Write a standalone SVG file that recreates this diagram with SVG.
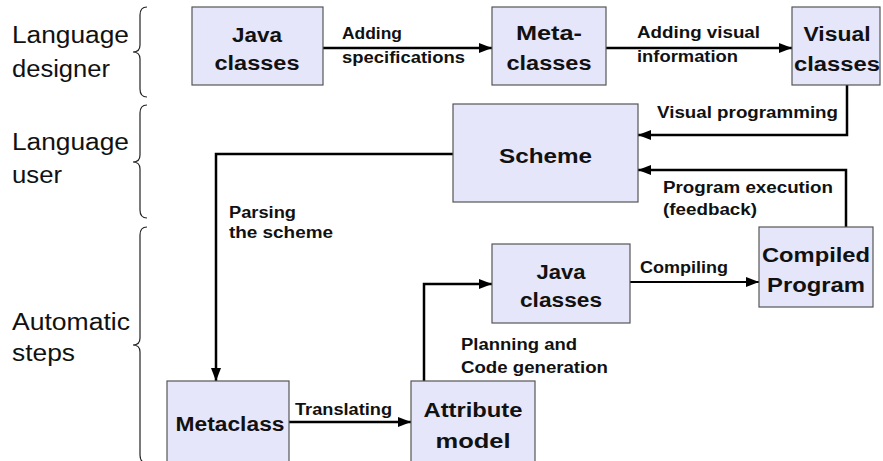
<svg xmlns="http://www.w3.org/2000/svg" width="883" height="461" viewBox="0 0 883 461">
<style>
.box{fill:#e6e6fa;stroke:#555;stroke-width:1.2}
.nt{font-family:"Liberation Sans",Arial,sans-serif;font-weight:bold;font-size:20px;fill:#111;text-anchor:middle}
.el{font-family:"Liberation Sans",Arial,sans-serif;font-weight:bold;font-size:16px;fill:#111}
.gl{font-family:"Liberation Sans",Arial,sans-serif;font-size:23px;fill:#111}
.brace{fill:none;stroke:#222;stroke-width:1.2}
.c{fill:none;stroke:#000;stroke-width:2.5;marker-end:url(#ah)}
</style>
<defs>
<marker id="ah" markerUnits="userSpaceOnUse" markerWidth="14" markerHeight="11" refX="13" refY="5" orient="auto">
<path d="M0,0 L13,5 L0,10 z" fill="#000"/>
</marker>
</defs>
<rect width="883" height="461" fill="#fff"/>
<g id="groups">
<text class="gl" x="12" y="43" textLength="117" lengthAdjust="spacingAndGlyphs">Language</text>
<text class="gl" x="12" y="77" textLength="98" lengthAdjust="spacingAndGlyphs">designer</text>
<path class="brace" d="M147,7 Q140,7 140,15 L140,45 Q140,52 133,52 Q140,52 140,59 L140,89 Q140,97 147,97"/>
<text class="gl" x="12" y="150" textLength="117" lengthAdjust="spacingAndGlyphs">Language</text>
<text class="gl" x="12" y="183" textLength="50" lengthAdjust="spacingAndGlyphs">user</text>
<path class="brace" d="M147,105 Q140,105 140,113 L140,155 Q140,162 133,162 Q140,162 140,169 L140,210 Q140,218 147,218"/>
<text class="gl" x="12" y="330" textLength="118" lengthAdjust="spacingAndGlyphs">Automatic</text>
<text class="gl" x="12" y="361" textLength="63" lengthAdjust="spacingAndGlyphs">steps</text>
<path class="brace" d="M147,227 Q140,227 140,235 L140,338 Q140,345 133,345 Q140,345 140,352 L140,455 Q140,463 147,463"/>
</g>
<g id="connectors">
<path class="c" d="M323,48 H492"/>
<path class="c" d="M606,48 H792"/>
<path class="c" d="M847,85 V135 H638"/>
<path class="c" d="M846,227 V170 H638"/>
<path class="c" d="M453,154 H216 V381"/>
<path class="c" d="M289,422 H411"/>
<path class="c" d="M424,381 V284 H492"/>
<path class="c" style="stroke-width:2" d="M630,282 H759"/>
<text class="el" x="342" y="39" textLength="60" lengthAdjust="spacingAndGlyphs">Adding</text>
<text class="el" x="342" y="63" textLength="123" lengthAdjust="spacingAndGlyphs">specifications</text>
<text class="el" x="637" y="38" textLength="123" lengthAdjust="spacingAndGlyphs">Adding visual</text>
<text class="el" x="637" y="62" textLength="101" lengthAdjust="spacingAndGlyphs">information</text>
<text class="el" x="657" y="118" textLength="181" lengthAdjust="spacingAndGlyphs">Visual programming</text>
<text class="el" x="663" y="193" textLength="170" lengthAdjust="spacingAndGlyphs">Program execution</text>
<text class="el" x="663" y="215" textLength="94" lengthAdjust="spacingAndGlyphs">(feedback)</text>
<text class="el" x="229" y="218" textLength="67" lengthAdjust="spacingAndGlyphs">Parsing</text>
<text class="el" x="229" y="238" textLength="104" lengthAdjust="spacingAndGlyphs">the scheme</text>
<text class="el" x="640" y="273" textLength="88" lengthAdjust="spacingAndGlyphs">Compiling</text>
<text class="el" x="295" y="415" textLength="97" lengthAdjust="spacingAndGlyphs">Translating</text>
<text class="el" x="461" y="350" textLength="116" lengthAdjust="spacingAndGlyphs">Planning and</text>
<text class="el" x="461" y="373" textLength="147" lengthAdjust="spacingAndGlyphs">Code generation</text>
</g>
<g id="java-top">
<rect class="box" x="192" y="7" width="131" height="78"/>
<text class="nt" x="257" y="42" textLength="50" lengthAdjust="spacingAndGlyphs">Java</text>
<text class="nt" x="257" y="70" textLength="85" lengthAdjust="spacingAndGlyphs">classes</text>
</g>
<g id="meta-classes">
<rect class="box" x="492" y="7" width="114" height="78"/>
<text class="nt" x="549" y="40" textLength="66" lengthAdjust="spacingAndGlyphs">Meta-</text>
<text class="nt" x="549" y="70" textLength="85" lengthAdjust="spacingAndGlyphs">classes</text>
</g>
<g id="visual-classes">
<rect class="box" x="792" y="7" width="88" height="78"/>
<text class="nt" x="837" y="41" textLength="67" lengthAdjust="spacingAndGlyphs">Visual</text>
<text class="nt" x="837" y="71" textLength="86" lengthAdjust="spacingAndGlyphs">classes</text>
</g>
<g id="scheme">
<rect class="box" x="453" y="104" width="185" height="98"/>
<text class="nt" x="545.5" y="163" textLength="93" lengthAdjust="spacingAndGlyphs">Scheme</text>
</g>
<g id="java-bottom">
<rect class="box" x="492" y="244" width="138" height="79"/>
<text class="nt" x="561" y="279" textLength="49" lengthAdjust="spacingAndGlyphs">Java</text>
<text class="nt" x="561" y="307" textLength="82" lengthAdjust="spacingAndGlyphs">classes</text>
</g>
<g id="compiled-program">
<rect class="box" x="759" y="227" width="114" height="80"/>
<text class="nt" x="816" y="262" textLength="108" lengthAdjust="spacingAndGlyphs">Compiled</text>
<text class="nt" x="816" y="292" textLength="98" lengthAdjust="spacingAndGlyphs">Program</text>
</g>
<g id="metaclass">
<rect class="box" x="167" y="381" width="122" height="90"/>
<text class="nt" x="230" y="431" textLength="109" lengthAdjust="spacingAndGlyphs">Metaclass</text>
</g>
<g id="attribute-model">
<rect class="box" x="411" y="381" width="124" height="90"/>
<text class="nt" x="473" y="417" textLength="99" lengthAdjust="spacingAndGlyphs">Attribute</text>
<text class="nt" x="473" y="448" textLength="75" lengthAdjust="spacingAndGlyphs">model</text>
</g>
</svg>
